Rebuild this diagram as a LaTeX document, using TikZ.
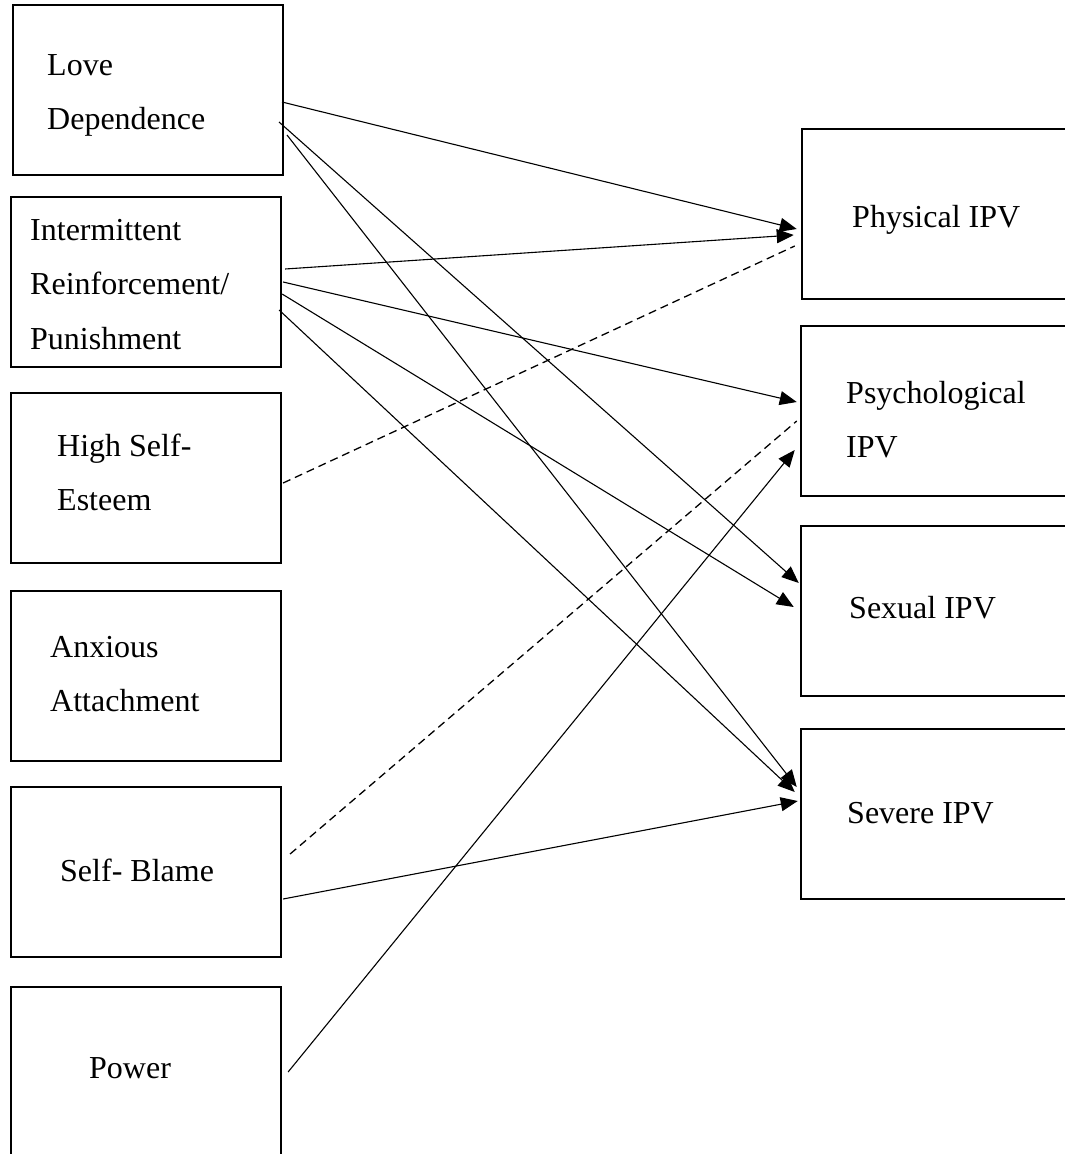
\documentclass[tikz,border=0pt]{standalone}
\usepackage{fontspec}
\setmainfont{Liberation Serif}
\usetikzlibrary{arrows.meta,calc}
\begin{document}
\begin{tikzpicture}[x=1pt,y=-1pt,
  box/.style={draw,line width=2pt,rectangle,inner sep=0pt,outer sep=0pt,minimum width=270.5pt,minimum height=170pt},
  lbl/.style={inner sep=0pt,anchor=base west,font=\fontsize{32}{54.5}\selectfont},
  arr/.style={line width=1.1pt,-{Triangle[length=17pt,width=14pt]}},
  dsh/.style={line width=1.3pt,dash pattern=on 8pt off 5pt}]
\useasboundingbox (0,0) rectangle (1065,1154);
\clip (0,0) rectangle (1065,1154);
% left boxes
\node[box] (ld) at (147.75,90) {};
\node[box] (ir) at (145.85,282) {};
\node[box] (hse) at (145.85,478) {};
\node[box] (aa) at (145.85,675.5) {};
\node[box] (sb) at (145.85,872) {};
\node[box] (pw) at (145.85,1072) {};
% right boxes
\node[box] (phy) at (937,214) {};
\node[box] (psy) at (936,411) {};
\node[box] (sex) at (936,611) {};
\node[box] (sev) at (936,814) {};
% labels
\node[lbl] (tld) at (47,75) {\vtop{\hbox{Love}\hbox{Dependence}}};
\node[lbl] (tir) at (30,240) {\vtop{\hbox{Intermittent}\hbox{Reinforcement/}\hbox{Punishment}}};
\node[lbl] (thse) at (57,456) {\vtop{\hbox{High Self-}\hbox{Esteem}}};
\node[lbl] (taa) at (50,657) {\vtop{\hbox{Anxious}\hbox{Attachment}}};
\node[lbl] (tsb) at (60,881) {Self- Blame};
\node[lbl] (tpw) at (89,1078) {Power};
\node[lbl] (tphy) at (852,227) {Physical IPV};
\node[lbl] (tpsy) at (846,403) {\vtop{\hbox{Psychological}\hbox{IPV}}};
\node[lbl] (tsex) at (849,618) {Sexual IPV};
\node[lbl] (tsev) at (847,823) {Severe IPV};
% connectors
\draw[arr] ($(ld.east)+(-1,12)$) -- ($(phy.west)+(-5,15)$);
\draw[arr] ($(ld.east)+(-4,32)$) -- ($(sex.west)+(-2,-28)$);
\draw[arr] ($(ld.east)+(4,45)$) -- ($(sev.west)+(-4,-27)$);
\draw[arr] ($(ir.east)+(4,-13)$) -- ($(phy.west)+(-8,21)$);
\draw[arr] ($(ir.east)+(2,0)$) -- ($(psy.west)+(-4,-9)$);
\draw[arr] ($(ir.east)+(1,12)$) -- ($(sex.west)+(-7,-4)$);
\draw[arr] ($(ir.east)+(-2,28)$) -- ($(sev.west)+(-6,-22)$);
\draw[dsh] ($(hse.east)+(2,5)$) -- ($(phy.west)+(-7,32)$);
\draw[dsh] ($(sb.east)+(9,-18)$) -- ($(psy.west)+(-4,10)$);
\draw[arr] ($(sb.east)+(2,27)$) -- ($(sev.west)+(-3,-13)$);
\draw[arr] ($(pw.east)+(7,0)$) -- ($(psy.west)+(-6,39)$);
\end{tikzpicture}
\end{document}
